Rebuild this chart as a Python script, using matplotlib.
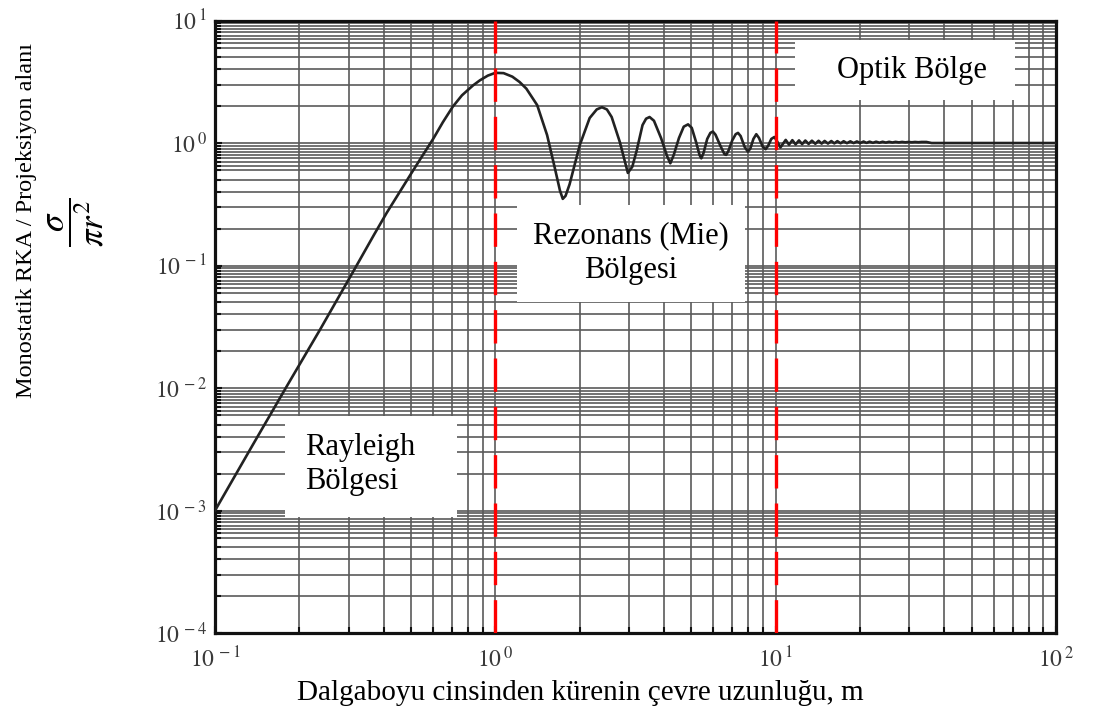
import matplotlib
matplotlib.use("Agg")
import matplotlib.pyplot as plt
from matplotlib.patches import Rectangle
from matplotlib.ticker import FixedLocator, LogLocator, NullFormatter

plt.rcParams['font.family'] = ['Liberation Serif', 'DejaVu Serif']
plt.rcParams['mathtext.fontset'] = 'stix'

# curve: circumference / wavelength vs sigma / (pi r^2)
ka = [0.1, 0.136, 0.181, 0.237, 0.310, 0.370, 0.410, 0.45, 0.50, 0.538, 0.60,
      0.65, 0.705, 0.76, 0.832, 0.881, 0.94, 1.0, 1.07, 1.15, 1.22,
      1.29, 1.41, 1.53, 1.63, 1.70, 1.74, 1.78, 1.84, 2.00,
      2.17, 2.30, 2.40, 2.50, 2.60, 2.78, 2.97, 3.08, 3.19, 3.35, 3.45, 3.55, 3.68,
      3.90, 4.10, 4.21, 4.33, 4.52, 4.70, 4.87, 5.02, 5.20, 5.35,
      5.43, 5.53, 5.70, 5.85, 5.97, 6.10, 6.35, 6.57, 6.66, 6.78,
      7.00, 7.20, 7.34, 7.50, 7.75, 7.96, 8.12, 8.33, 8.53, 8.72,
      9.00, 9.21, 9.40, 9.65, 9.90, 10.15, 10.4,
      10.86, 11.16, 11.47, 11.78, 12.11, 12.43, 12.76, 13.11, 13.47, 13.85,
      14.23, 14.59, 14.95, 15.37, 15.80, 16.19, 16.60, 17.05, 17.48, 17.96,
      18.47, 18.97, 19.49, 20.04, 20.59, 21.10, 21.63, 22.23, 22.82, 23.45,
      24.07, 24.73, 25.39, 26.09, 26.78, 27.51, 28.25, 29.02, 29.80, 30.61,
      31.43, 32.29, 33.16, 34.5, 36.0, 100.0]
rcs = [1.0e-3, 3.4e-3, 0.0105, 0.030, 0.088, 0.180, 0.27, 0.38, 0.56, 0.73, 1.08,
       1.48, 1.98, 2.45, 2.95, 3.25, 3.55, 3.74, 3.72, 3.48, 3.15,
       2.78, 2.04, 1.16, 0.625, 0.41, 0.35, 0.37, 0.46, 0.96,
       1.60, 1.88, 1.96, 1.88, 1.63, 1.02, 0.57, 0.64, 0.86, 1.40, 1.58, 1.63, 1.52,
       1.10, 0.78, 0.683, 0.80, 1.10, 1.36, 1.42, 1.33, 1.02, 0.80,
       0.75, 0.83, 1.08, 1.21, 1.24, 1.17, 0.95, 0.81, 0.80, 0.86,
       1.05, 1.18, 1.21, 1.14, 0.93, 0.85, 0.90, 1.08, 1.18, 1.10,
       0.93, 0.89, 0.95, 1.08, 1.12, 1.02, 0.92,
       1.06, 0.97, 1.055, 0.975, 1.05, 0.98, 1.048, 0.983, 1.045, 0.986,
       1.043, 0.989, 1.04, 0.99, 1.038, 0.993, 1.036, 0.995, 1.034, 0.997,
       1.032, 0.999, 1.03, 1.0, 1.028, 1.002, 1.026, 1.004, 1.025, 1.006,
       1.024, 1.008, 1.023, 1.01, 1.022, 1.012, 1.021, 1.013, 1.02, 1.014,
       1.02, 1.015, 1.02, 1.02, 1.0, 1.0]

region_edges = [1, 10]
x_ticks = [0.1, 1, 10, 100]
x_labels = [r'$10^{\,-1}$', r'$10^{\,0}$', r'$10^{\,1}$', r'$10^{\,2}$']
y_ticks = [1e-4, 1e-3, 1e-2, 1e-1, 1, 10]
y_labels = [r'$10^{\,-4}$', r'$10^{\,-3}$', r'$10^{\,-2}$', r'$10^{\,-1}$', r'$10^{\,0}$', r'$10^{\,1}$']
y_subs = [2, 3, 4, 5, 6, 6.5, 7, 7.5, 8, 8.5, 9, 9.5]

fig = plt.figure(figsize=(11.01, 7.2), dpi=100)
ax = fig.add_axes([0.1953, 0.1208, 0.7638, 0.8507])
ax.set_xscale('log')
ax.set_yscale('log')
ax.set_xlim(0.1, 100)
ax.set_ylim(1e-4, 10)

ax.xaxis.set_major_locator(FixedLocator(x_ticks))
ax.xaxis.set_minor_locator(LogLocator(base=10, subs=range(2, 10)))
ax.xaxis.set_minor_formatter(NullFormatter())
ax.set_xticklabels(x_labels)
ax.yaxis.set_major_locator(FixedLocator(y_ticks))
ax.yaxis.set_minor_locator(FixedLocator([s * 10.0 ** e for e in range(-4, 1) for s in y_subs]))
ax.yaxis.set_minor_formatter(NullFormatter())
ax.set_yticklabels(y_labels)

ax.grid(which='both', color='#5a5a5a', lw=1.2, zorder=1)
for sp in ax.spines.values():
    sp.set_linewidth(2.3)
    sp.set_color('#111111')
ax.tick_params(which='both', direction='in', width=1.5, colors='#111111',
               labelcolor='#3a3a3a', labelsize=17)
ax.tick_params(which='major', length=5)
ax.tick_params(which='minor', length=4)
ax.tick_params(axis='x', pad=10)
ax.tick_params(axis='y', pad=6)

ax.plot(ka, rcs, color='#222222', lw=1.9, zorder=3, solid_joinstyle='round')
for xe in region_edges:
    ax.axvline(xe, color='red', lw=2.4, dashes=(10, 4.5), zorder=4)

# white label boxes (axes fraction)
boxes = [(0.0832, 0.1894, 0.2046, 0.1649),
         (0.3591, 0.5404, 0.2711, 0.1584),
         (0.6897, 0.8702, 0.2615, 0.0980)]
for x0, y0, w, h in boxes:
    ax.add_patch(Rectangle((x0, y0), w, h, transform=ax.transAxes,
                           facecolor='white', edgecolor='none', zorder=5))

ax.text(0.107, 0.2751, 'Rayleigh\nBölgesi', transform=ax.transAxes,
        ha='left', va='center', fontsize=22, linespacing=1.2, zorder=6)
ax.text(0.4946, 0.6204, 'Rezonans (Mie)\nBölgesi', transform=ax.transAxes,
        ha='center', va='center', fontsize=22, linespacing=1.3, zorder=6)
ax.text(0.8288, 0.9192, 'Optik Bölge', transform=ax.transAxes,
        ha='center', va='center', fontsize=22, zorder=6)

fig.text(580 / 1101, 1 - 693 / 720, 'Dalgaboyu cinsinden kürenin çevre uzunluğu, m',
         ha='center', va='center', fontsize=21)
fig.text(27 / 1101, 1 - 221 / 720, 'Monostatik RKA / Projeksiyon alanı',
         rotation=90, ha='center', va='center', fontsize=17.5)
fig.text(76 / 1101, 1 - 222 / 720, r'$\dfrac{\sigma}{\pi r^2}$',
         rotation=90, ha='center', va='center', fontsize=25)

fig.savefig('out.png', dpi=100)
